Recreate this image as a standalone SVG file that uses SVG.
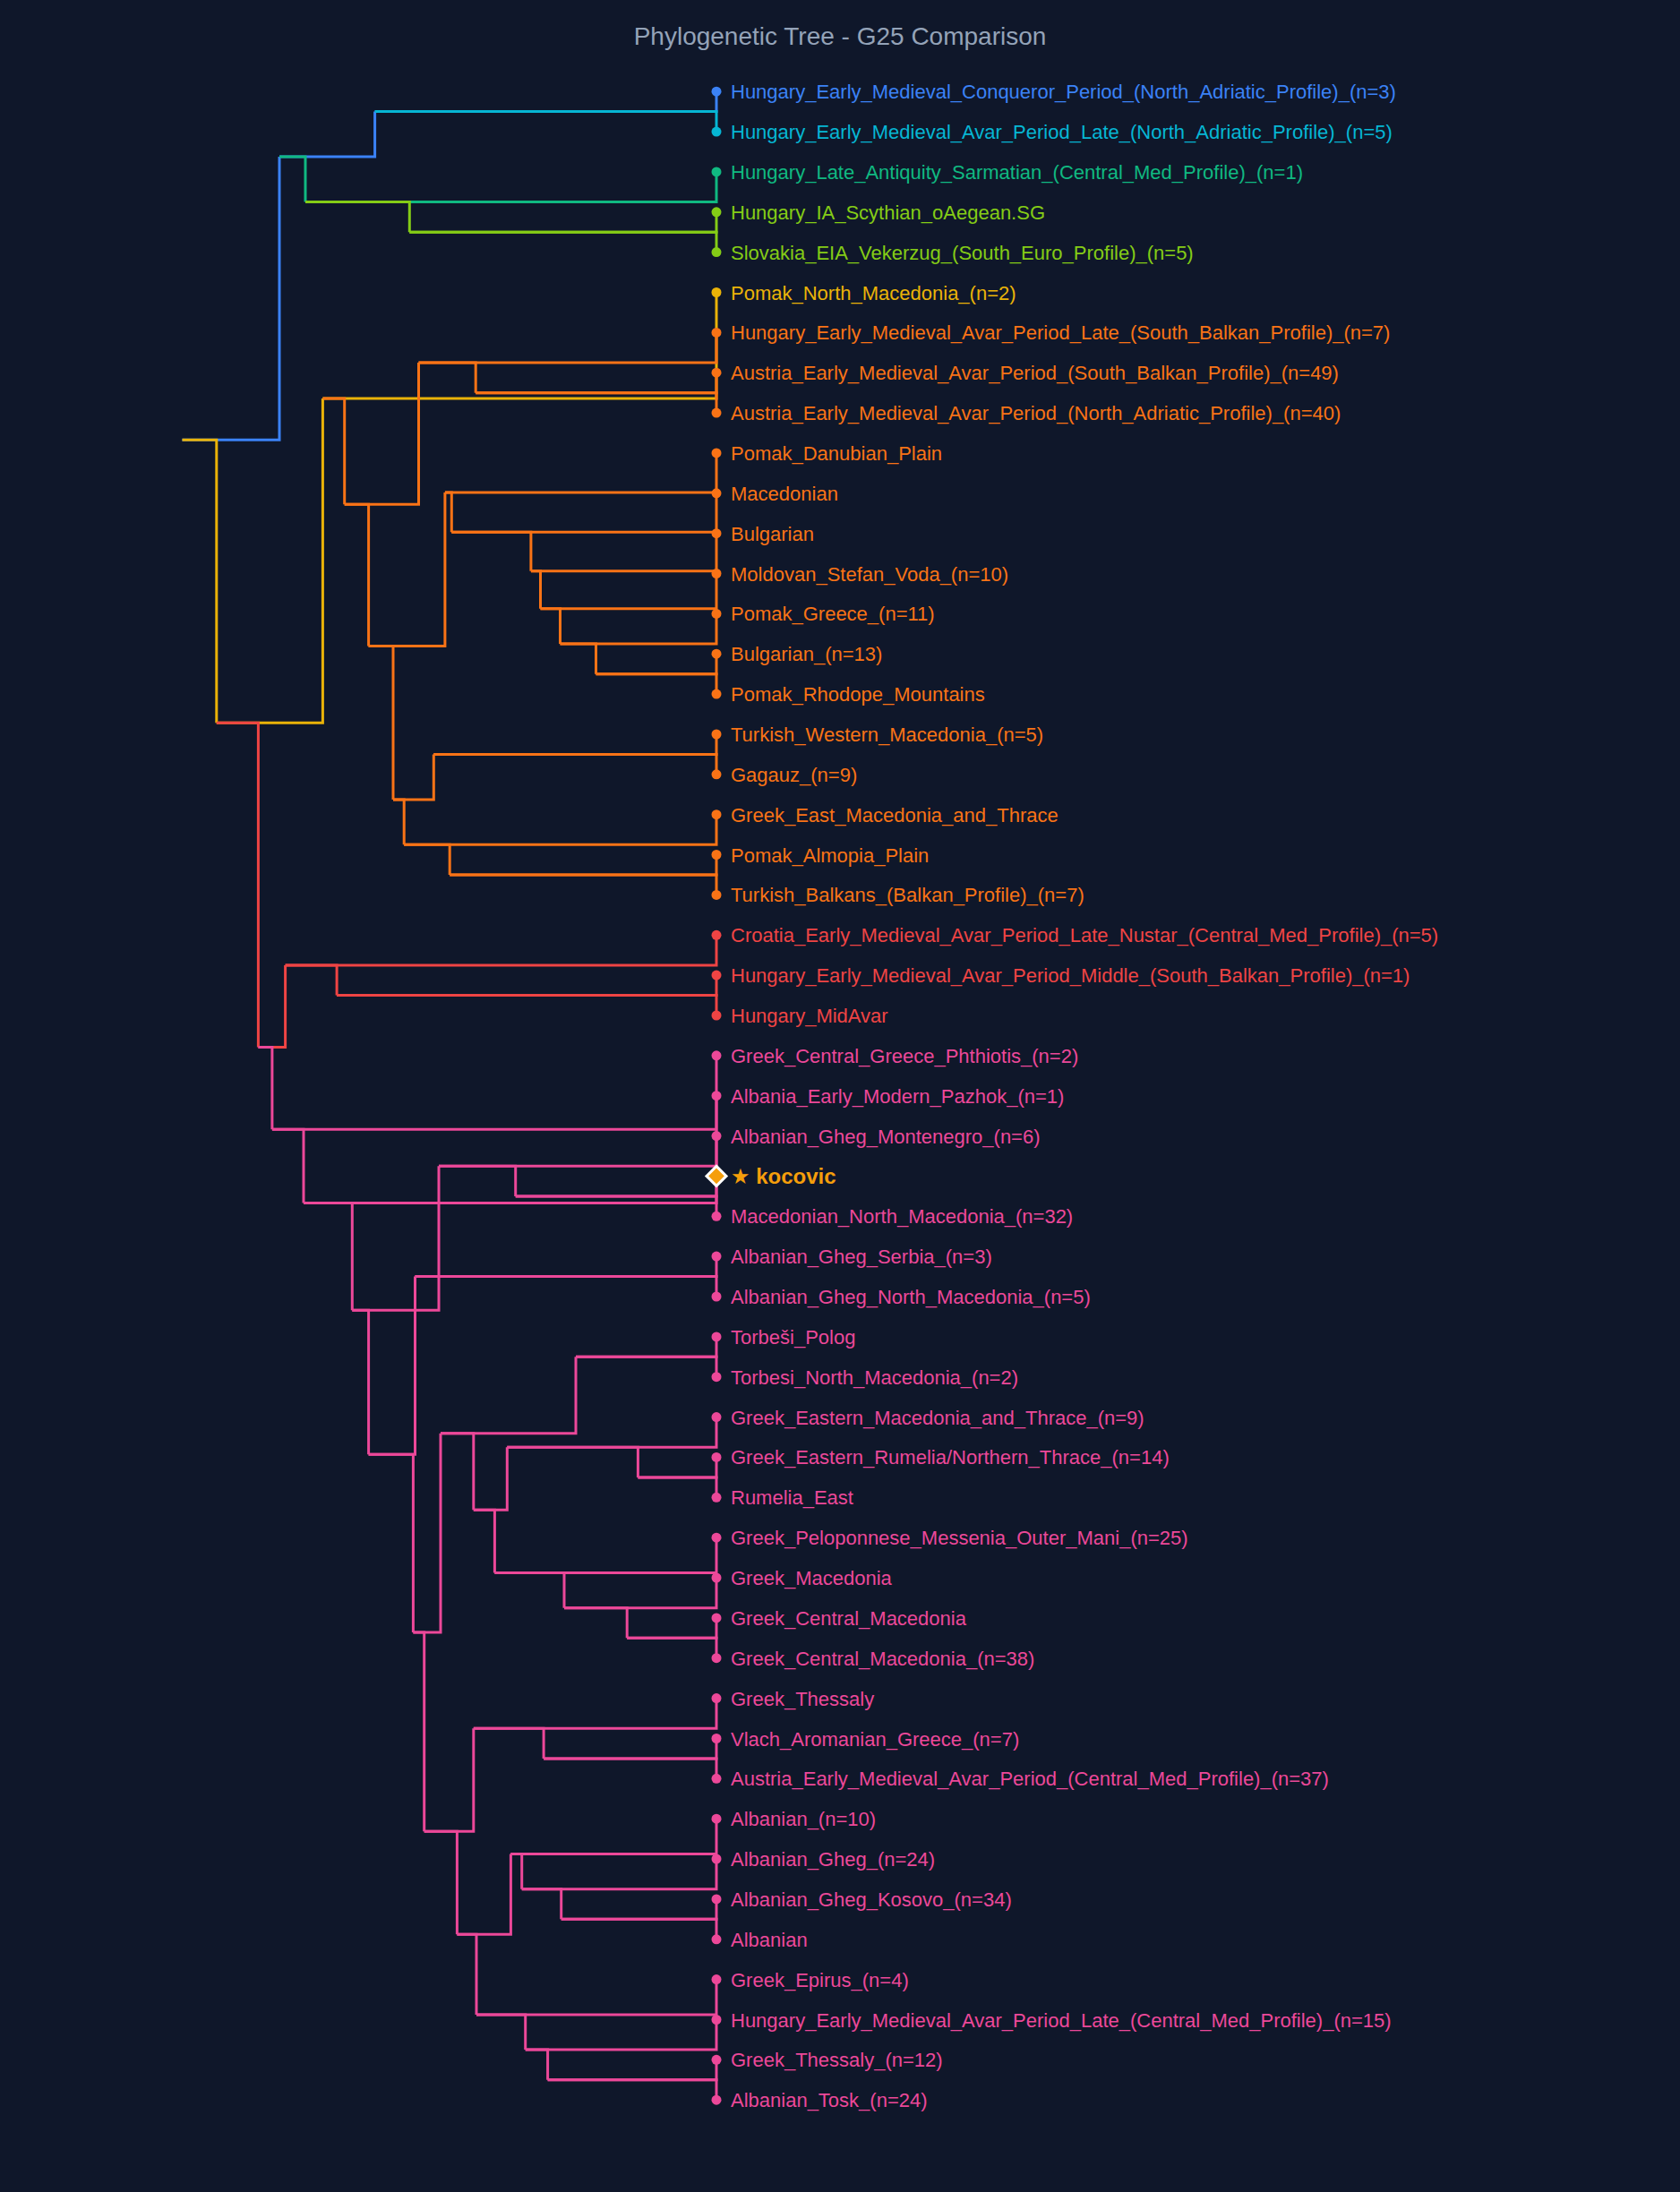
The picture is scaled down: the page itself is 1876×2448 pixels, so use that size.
<svg xmlns="http://www.w3.org/2000/svg" width="1876" height="2448" viewBox="0 0 1876 2448">
<style>
.bg{fill:#0f172a}
.title{font-family:"Liberation Sans",Arial,sans-serif;font-size:28px;fill:#94a3b8}
.lk{fill:none;stroke-width:3}
.lk.blue{stroke:#3b82f6}.lk.cyan{stroke:#06b6d4}.lk.green{stroke:#10b981}.lk.lime{stroke:#84cc16}
.lk.yellow{stroke:#eab308}.lk.orange{stroke:#f97316}.lk.red{stroke:#ef4444}.lk.pink{stroke:#ec4899}
.leaf text{font-family:"Liberation Sans",Arial,sans-serif;font-size:22px}
.leaf.blue{fill:#3b82f6}.leaf.cyan{fill:#06b6d4}.leaf.green{fill:#10b981}.leaf.lime{fill:#84cc16}
.leaf.yellow{fill:#eab308}.leaf.orange{fill:#f97316}.leaf.red{fill:#ef4444}.leaf.pink{fill:#ec4899}
.leaf.target{fill:#f59e0b}
.leaf.target text{font-family:"Liberation Sans","DejaVu Sans",Arial,sans-serif;font-size:24px;font-weight:bold}
.diamond{fill:#f59e0b;stroke:#ffffff;stroke-width:3}
</style>
<rect class="bg" x="0" y="0" width="1876" height="2448"/>
<text class="title" x="938" y="50" text-anchor="middle">Phylogenetic Tree - G25 Comparison</text>
<g id="connectors">
<path class="lk blue" d="M203.5 491.2H312V175.1"/>
<path class="lk yellow" d="M203.5 491.2H241.8V807.2"/>
<path class="lk blue" d="M312 175.1H418.6V124.6"/>
<path class="lk green" d="M312 175.1H341V225.6"/>
<path class="lk yellow" d="M241.8 807.2H360.4V444.9"/>
<path class="lk red" d="M241.8 807.2H288.4V1169.5"/>
<path class="lk blue" d="M418.6 124.6H800V102.2"/>
<path class="lk cyan" d="M418.6 124.6H800V147.1"/>
<path class="lk green" d="M341 225.6H800V191.9"/>
<path class="lk lime" d="M341 225.6H457.3V259.2"/>
<path class="lk yellow" d="M360.4 444.9H800V326.5"/>
<path class="lk orange" d="M360.4 444.9H384.7V563.2"/>
<path class="lk red" d="M288.4 1169.5H318.6V1077.9"/>
<path class="lk pink" d="M288.4 1169.5H303.9V1261.2"/>
<path class="lk lime" d="M457.3 259.2H800V236.8"/>
<path class="lk lime" d="M457.3 259.2H800V281.6"/>
<path class="lk orange" d="M384.7 563.2H467.5V405"/>
<path class="lk orange" d="M384.7 563.2H411.6V721.5"/>
<path class="lk red" d="M318.6 1077.9H800V1044.3"/>
<path class="lk red" d="M318.6 1077.9H376.1V1111.6"/>
<path class="lk pink" d="M303.9 1261.2H800V1178.8"/>
<path class="lk pink" d="M303.9 1261.2H339V1343.5"/>
<path class="lk orange" d="M467.5 405H800V371.4"/>
<path class="lk orange" d="M467.5 405H531.2V438.7"/>
<path class="lk orange" d="M411.6 721.5H496.9V550.1"/>
<path class="lk orange" d="M411.6 721.5H439V892.9"/>
<path class="lk red" d="M376.1 1111.6H800V1089.1"/>
<path class="lk red" d="M376.1 1111.6H800V1134"/>
<path class="lk pink" d="M339 1343.5H800V1223.7"/>
<path class="lk pink" d="M339 1343.5H393.3V1463.3"/>
<path class="lk orange" d="M531.2 438.7H800V416.2"/>
<path class="lk orange" d="M531.2 438.7H800V461.1"/>
<path class="lk orange" d="M496.9 550.1H800V505.9"/>
<path class="lk orange" d="M496.9 550.1H504.3V594.3"/>
<path class="lk orange" d="M439 892.9H484.3V842.4"/>
<path class="lk orange" d="M439 892.9H451.2V943.3"/>
<path class="lk pink" d="M393.3 1463.3H490V1302.2"/>
<path class="lk pink" d="M393.3 1463.3H411.6V1624.3"/>
<path class="lk orange" d="M504.3 594.3H800V550.8"/>
<path class="lk orange" d="M504.3 594.3H592.9V637.7"/>
<path class="lk orange" d="M484.3 842.4H800V820"/>
<path class="lk orange" d="M484.3 842.4H800V864.8"/>
<path class="lk orange" d="M451.2 943.3H800V909.7"/>
<path class="lk orange" d="M451.2 943.3H502.2V977"/>
<path class="lk pink" d="M490 1302.2H800V1268.6"/>
<path class="lk pink" d="M490 1302.2H575.7V1335.9"/>
<path class="lk pink" d="M411.6 1624.3H463.5V1425.6"/>
<path class="lk pink" d="M411.6 1624.3H461.4V1823"/>
<path class="lk orange" d="M592.9 637.7H800V595.7"/>
<path class="lk orange" d="M592.9 637.7H603.5V679.8"/>
<path class="lk orange" d="M502.2 977H800V954.5"/>
<path class="lk orange" d="M502.2 977H800V999.4"/>
<path class="lk pink" d="M575.7 1335.9H800V1313.4"/>
<path class="lk pink" d="M575.7 1335.9H800V1358.3"/>
<path class="lk pink" d="M463.5 1425.6H800V1403.1"/>
<path class="lk pink" d="M463.5 1425.6H800V1448"/>
<path class="lk pink" d="M461.4 1823H492V1600.8"/>
<path class="lk pink" d="M461.4 1823H473.7V2045.2"/>
<path class="lk orange" d="M603.5 679.8H800V640.5"/>
<path class="lk orange" d="M603.5 679.8H625.5V719"/>
<path class="lk pink" d="M492 1600.8H643V1515.3"/>
<path class="lk pink" d="M492 1600.8H528.8V1686.3"/>
<path class="lk pink" d="M473.7 2045.2H528.8V1930.3"/>
<path class="lk pink" d="M473.7 2045.2H510.4V2160.2"/>
<path class="lk orange" d="M625.5 719H800V685.4"/>
<path class="lk orange" d="M625.5 719H665.5V752.7"/>
<path class="lk pink" d="M643 1515.3H800V1492.9"/>
<path class="lk pink" d="M643 1515.3H800V1537.7"/>
<path class="lk pink" d="M528.8 1686.3H566.3V1616.2"/>
<path class="lk pink" d="M528.8 1686.3H552.4V1756.4"/>
<path class="lk pink" d="M528.8 1930.3H800V1896.6"/>
<path class="lk pink" d="M528.8 1930.3H607.1V1963.9"/>
<path class="lk pink" d="M510.4 2160.2H570.4V2070.4"/>
<path class="lk pink" d="M510.4 2160.2H532V2249.9"/>
<path class="lk orange" d="M665.5 752.7H800V730.2"/>
<path class="lk orange" d="M665.5 752.7H800V775.1"/>
<path class="lk pink" d="M566.3 1616.2H800V1582.6"/>
<path class="lk pink" d="M566.3 1616.2H712.4V1649.9"/>
<path class="lk pink" d="M552.4 1756.4H800V1717.2"/>
<path class="lk pink" d="M552.4 1756.4H630V1795.7"/>
<path class="lk pink" d="M607.1 1963.9H800V1941.5"/>
<path class="lk pink" d="M607.1 1963.9H800V1986.3"/>
<path class="lk pink" d="M570.4 2070.4H800V2031.2"/>
<path class="lk pink" d="M570.4 2070.4H582.7V2109.7"/>
<path class="lk pink" d="M532 2249.9H800V2210.6"/>
<path class="lk pink" d="M532 2249.9H586.7V2289.1"/>
<path class="lk pink" d="M712.4 1649.9H800V1627.4"/>
<path class="lk pink" d="M712.4 1649.9H800V1672.3"/>
<path class="lk pink" d="M630 1795.7H800V1762"/>
<path class="lk pink" d="M630 1795.7H700.2V1829.3"/>
<path class="lk pink" d="M582.7 2109.7H800V2076"/>
<path class="lk pink" d="M582.7 2109.7H626.7V2143.3"/>
<path class="lk pink" d="M586.7 2289.1H800V2255.5"/>
<path class="lk pink" d="M586.7 2289.1H611.6V2322.8"/>
<path class="lk pink" d="M700.2 1829.3H800V1806.9"/>
<path class="lk pink" d="M700.2 1829.3H800V1851.7"/>
<path class="lk pink" d="M626.7 2143.3H800V2120.9"/>
<path class="lk pink" d="M626.7 2143.3H800V2165.8"/>
<path class="lk pink" d="M611.6 2322.8H800V2300.3"/>
<path class="lk pink" d="M611.6 2322.8H800V2345.2"/>
</g>
<g id="leaf-01" class="leaf blue"><circle cx="800" cy="102.2" r="5.5"/><text x="816" y="110.2">Hungary_Early_Medieval_Conqueror_Period_(North_Adriatic_Profile)_(n=3)</text></g>
<g id="leaf-02" class="leaf cyan"><circle cx="800" cy="147.1" r="5.5"/><text x="816" y="155.1">Hungary_Early_Medieval_Avar_Period_Late_(North_Adriatic_Profile)_(n=5)</text></g>
<g id="leaf-03" class="leaf green"><circle cx="800" cy="191.9" r="5.5"/><text x="816" y="199.9">Hungary_Late_Antiquity_Sarmatian_(Central_Med_Profile)_(n=1)</text></g>
<g id="leaf-04" class="leaf lime"><circle cx="800" cy="236.8" r="5.5"/><text x="816" y="244.8">Hungary_IA_Scythian_oAegean.SG</text></g>
<g id="leaf-05" class="leaf lime"><circle cx="800" cy="281.6" r="5.5"/><text x="816" y="289.6">Slovakia_EIA_Vekerzug_(South_Euro_Profile)_(n=5)</text></g>
<g id="leaf-06" class="leaf yellow"><circle cx="800" cy="326.5" r="5.5"/><text x="816" y="334.5">Pomak_North_Macedonia_(n=2)</text></g>
<g id="leaf-07" class="leaf orange"><circle cx="800" cy="371.4" r="5.5"/><text x="816" y="379.4">Hungary_Early_Medieval_Avar_Period_Late_(South_Balkan_Profile)_(n=7)</text></g>
<g id="leaf-08" class="leaf orange"><circle cx="800" cy="416.2" r="5.5"/><text x="816" y="424.2">Austria_Early_Medieval_Avar_Period_(South_Balkan_Profile)_(n=49)</text></g>
<g id="leaf-09" class="leaf orange"><circle cx="800" cy="461.1" r="5.5"/><text x="816" y="469.1">Austria_Early_Medieval_Avar_Period_(North_Adriatic_Profile)_(n=40)</text></g>
<g id="leaf-10" class="leaf orange"><circle cx="800" cy="505.9" r="5.5"/><text x="816" y="513.9">Pomak_Danubian_Plain</text></g>
<g id="leaf-11" class="leaf orange"><circle cx="800" cy="550.8" r="5.5"/><text x="816" y="558.8">Macedonian</text></g>
<g id="leaf-12" class="leaf orange"><circle cx="800" cy="595.7" r="5.5"/><text x="816" y="603.7">Bulgarian</text></g>
<g id="leaf-13" class="leaf orange"><circle cx="800" cy="640.5" r="5.5"/><text x="816" y="648.5">Moldovan_Stefan_Voda_(n=10)</text></g>
<g id="leaf-14" class="leaf orange"><circle cx="800" cy="685.4" r="5.5"/><text x="816" y="693.4">Pomak_Greece_(n=11)</text></g>
<g id="leaf-15" class="leaf orange"><circle cx="800" cy="730.2" r="5.5"/><text x="816" y="738.2">Bulgarian_(n=13)</text></g>
<g id="leaf-16" class="leaf orange"><circle cx="800" cy="775.1" r="5.5"/><text x="816" y="783.1">Pomak_Rhodope_Mountains</text></g>
<g id="leaf-17" class="leaf orange"><circle cx="800" cy="820" r="5.5"/><text x="816" y="828">Turkish_Western_Macedonia_(n=5)</text></g>
<g id="leaf-18" class="leaf orange"><circle cx="800" cy="864.8" r="5.5"/><text x="816" y="872.8">Gagauz_(n=9)</text></g>
<g id="leaf-19" class="leaf orange"><circle cx="800" cy="909.7" r="5.5"/><text x="816" y="917.7">Greek_East_Macedonia_and_Thrace</text></g>
<g id="leaf-20" class="leaf orange"><circle cx="800" cy="954.5" r="5.5"/><text x="816" y="962.5">Pomak_Almopia_Plain</text></g>
<g id="leaf-21" class="leaf orange"><circle cx="800" cy="999.4" r="5.5"/><text x="816" y="1007.4">Turkish_Balkans_(Balkan_Profile)_(n=7)</text></g>
<g id="leaf-22" class="leaf red"><circle cx="800" cy="1044.3" r="5.5"/><text x="816" y="1052.3">Croatia_Early_Medieval_Avar_Period_Late_Nustar_(Central_Med_Profile)_(n=5)</text></g>
<g id="leaf-23" class="leaf red"><circle cx="800" cy="1089.1" r="5.5"/><text x="816" y="1097.1">Hungary_Early_Medieval_Avar_Period_Middle_(South_Balkan_Profile)_(n=1)</text></g>
<g id="leaf-24" class="leaf red"><circle cx="800" cy="1134" r="5.5"/><text x="816" y="1142">Hungary_MidAvar</text></g>
<g id="leaf-25" class="leaf pink"><circle cx="800" cy="1178.8" r="5.5"/><text x="816" y="1186.8">Greek_Central_Greece_Phthiotis_(n=2)</text></g>
<g id="leaf-26" class="leaf pink"><circle cx="800" cy="1223.7" r="5.5"/><text x="816" y="1231.7">Albania_Early_Modern_Pazhok_(n=1)</text></g>
<g id="leaf-27" class="leaf pink"><circle cx="800" cy="1268.6" r="5.5"/><text x="816" y="1276.6">Albanian_Gheg_Montenegro_(n=6)</text></g>
<g id="leaf-28" class="leaf target"><polygon class="diamond" points="800,1302.4 811,1313.4 800,1324.4 789,1313.4"/><text x="816" y="1321.6">★ kocovic</text></g>
<g id="leaf-29" class="leaf pink"><circle cx="800" cy="1358.3" r="5.5"/><text x="816" y="1366.3">Macedonian_North_Macedonia_(n=32)</text></g>
<g id="leaf-30" class="leaf pink"><circle cx="800" cy="1403.1" r="5.5"/><text x="816" y="1411.1">Albanian_Gheg_Serbia_(n=3)</text></g>
<g id="leaf-31" class="leaf pink"><circle cx="800" cy="1448" r="5.5"/><text x="816" y="1456">Albanian_Gheg_North_Macedonia_(n=5)</text></g>
<g id="leaf-32" class="leaf pink"><circle cx="800" cy="1492.9" r="5.5"/><text x="816" y="1500.9">Torbeši_Polog</text></g>
<g id="leaf-33" class="leaf pink"><circle cx="800" cy="1537.7" r="5.5"/><text x="816" y="1545.7">Torbesi_North_Macedonia_(n=2)</text></g>
<g id="leaf-34" class="leaf pink"><circle cx="800" cy="1582.6" r="5.5"/><text x="816" y="1590.6">Greek_Eastern_Macedonia_and_Thrace_(n=9)</text></g>
<g id="leaf-35" class="leaf pink"><circle cx="800" cy="1627.4" r="5.5"/><text x="816" y="1635.4">Greek_Eastern_Rumelia/Northern_Thrace_(n=14)</text></g>
<g id="leaf-36" class="leaf pink"><circle cx="800" cy="1672.3" r="5.5"/><text x="816" y="1680.3">Rumelia_East</text></g>
<g id="leaf-37" class="leaf pink"><circle cx="800" cy="1717.2" r="5.5"/><text x="816" y="1725.2">Greek_Peloponnese_Messenia_Outer_Mani_(n=25)</text></g>
<g id="leaf-38" class="leaf pink"><circle cx="800" cy="1762" r="5.5"/><text x="816" y="1770">Greek_Macedonia</text></g>
<g id="leaf-39" class="leaf pink"><circle cx="800" cy="1806.9" r="5.5"/><text x="816" y="1814.9">Greek_Central_Macedonia</text></g>
<g id="leaf-40" class="leaf pink"><circle cx="800" cy="1851.7" r="5.5"/><text x="816" y="1859.7">Greek_Central_Macedonia_(n=38)</text></g>
<g id="leaf-41" class="leaf pink"><circle cx="800" cy="1896.6" r="5.5"/><text x="816" y="1904.6">Greek_Thessaly</text></g>
<g id="leaf-42" class="leaf pink"><circle cx="800" cy="1941.5" r="5.5"/><text x="816" y="1949.5">Vlach_Aromanian_Greece_(n=7)</text></g>
<g id="leaf-43" class="leaf pink"><circle cx="800" cy="1986.3" r="5.5"/><text x="816" y="1994.3">Austria_Early_Medieval_Avar_Period_(Central_Med_Profile)_(n=37)</text></g>
<g id="leaf-44" class="leaf pink"><circle cx="800" cy="2031.2" r="5.5"/><text x="816" y="2039.2">Albanian_(n=10)</text></g>
<g id="leaf-45" class="leaf pink"><circle cx="800" cy="2076" r="5.5"/><text x="816" y="2084">Albanian_Gheg_(n=24)</text></g>
<g id="leaf-46" class="leaf pink"><circle cx="800" cy="2120.9" r="5.5"/><text x="816" y="2128.9">Albanian_Gheg_Kosovo_(n=34)</text></g>
<g id="leaf-47" class="leaf pink"><circle cx="800" cy="2165.8" r="5.5"/><text x="816" y="2173.8">Albanian</text></g>
<g id="leaf-48" class="leaf pink"><circle cx="800" cy="2210.6" r="5.5"/><text x="816" y="2218.6">Greek_Epirus_(n=4)</text></g>
<g id="leaf-49" class="leaf pink"><circle cx="800" cy="2255.5" r="5.5"/><text x="816" y="2263.5">Hungary_Early_Medieval_Avar_Period_Late_(Central_Med_Profile)_(n=15)</text></g>
<g id="leaf-50" class="leaf pink"><circle cx="800" cy="2300.3" r="5.5"/><text x="816" y="2308.3">Greek_Thessaly_(n=12)</text></g>
<g id="leaf-51" class="leaf pink"><circle cx="800" cy="2345.2" r="5.5"/><text x="816" y="2353.2">Albanian_Tosk_(n=24)</text></g>
</svg>
